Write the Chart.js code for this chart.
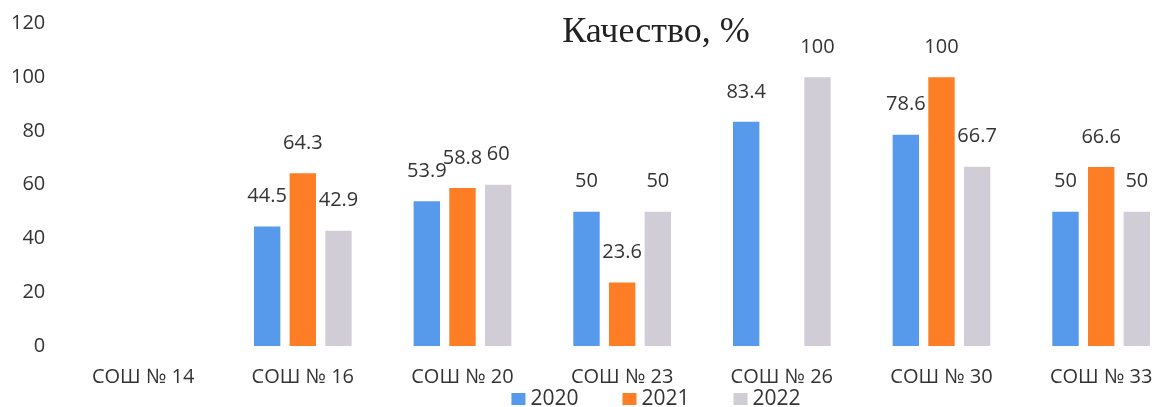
<!DOCTYPE html>
<html>
<head>
<meta charset="utf-8">
<script src="https://cdn.jsdelivr.net/npm/chart.js@4"></script>
<style>
  html, body { margin: 0; padding: 0; background: #fff; overflow: hidden; }
  .wrap { width: 1312px; height: 407px; }
</style>
</head>
<body>
<div class="wrap"><canvas id="qualityChart"></canvas></div>
<script>
// ── Data ──
const categories = ['СОШ № 14', 'СОШ № 16', 'СОШ № 20', 'СОШ № 23', 'СОШ № 26', 'СОШ № 30', 'СОШ № 33'];
const years = ['2020', '2021', '2022'];
const values2020 = [null, 44.5, 53.9, 50, 83.4, 78.6, 50];
const values2021 = [null, 64.3, 58.8, 23.6, null, 100, 66.6];
const values2022 = [null, 42.9, 60, 50, 100, 66.7, 50];
const yTicks = [0, 20, 40, 60, 80, 100, 120];
const chartTitle = 'Качество, %';

const colors = ['#5799ea', '#fd7e24', '#d1cdd7'];
const textColor = '#333';
const FONT = '"Open Sans", sans-serif';

// ── Value labels above bars ──
const valueLabels = {
  id: 'valueLabels',
  afterDatasetsDraw(chart) {
    const ctx = chart.ctx;
    ctx.save();
    ctx.font = '20px ' + FONT;
    ctx.fillStyle = textColor;
    ctx.textAlign = 'center';
    ctx.textBaseline = 'middle';
    chart.data.datasets.forEach((ds, i) => {
      chart.getDatasetMeta(i).data.forEach((bar, j) => {
        const v = ds.data[j];
        if (v === null) return;
        ctx.fillText(String(v), bar.x, bar.y - 30);
      });
    });
    ctx.restore();
  }
};

// ── Title + legend (centred on the full canvas) ──
const titleAndLegend = {
  id: 'titleAndLegend',
  afterDraw(chart) {
    const ctx = chart.ctx;
    const cx = chart.width / 2;
    ctx.save();
    ctx.fillStyle = '#222';
    ctx.font = '36px "Liberation Serif", serif';
    ctx.textAlign = 'center';
    ctx.textBaseline = 'middle';
    ctx.fillText(chartTitle, cx, 33);

    ctx.font = '21px ' + FONT;
    const box = 14, boxGap = 5, itemGap = 44;
    const widths = years.map(y => box + boxGap + ctx.measureText(y).width);
    const total = widths.reduce((a, b) => a + b, 0) + itemGap * (years.length - 1);
    let x = cx - total / 2;
    const y = 399;
    ctx.textAlign = 'left';
    years.forEach((label, i) => {
      ctx.fillStyle = colors[i];
      ctx.fillRect(x, y - 6, box, 12);
      ctx.fillStyle = textColor;
      ctx.fillText(label, x + box + boxGap, y);
      x += widths[i] + itemGap;
    });
    ctx.restore();
  }
};

const datasets = [values2020, values2021, values2022].map((data, i) => ({
  label: years[i],
  data,
  backgroundColor: colors[i],
  borderWidth: 0,
  categoryPercentage: 0.67,
  barPercentage: 0.74,
}));

new Chart(document.getElementById('qualityChart'), {
  type: 'bar',
  data: { labels: categories, datasets },
  plugins: [valueLabels, titleAndLegend],
  options: {
    responsive: true,
    maintainAspectRatio: false,
    animation: false,
    layout: { padding: { top: 23.5, left: -7, right: 131, bottom: -1 } },
    plugins: {
      legend: { display: false },
      title: { display: false },
      tooltip: { enabled: false }
    },
    scales: {
      x: {
        grid: { display: false, drawTicks: false },
        border: { display: false },
        ticks: { color: textColor, font: { family: FONT, size: 20 }, padding: 19 }
      },
      y: {
        min: 0,
        max: 120,
        afterBuildTicks: axis => { axis.ticks = yTicks.map(v => ({ value: v })); },
        grid: { display: false, drawTicks: false },
        border: { display: false },
        ticks: { color: textColor, font: { family: FONT, size: 20, lineHeight: 0.5 }, padding: 18 }
      }
    }
  }
});
</script>
</body>
</html>
